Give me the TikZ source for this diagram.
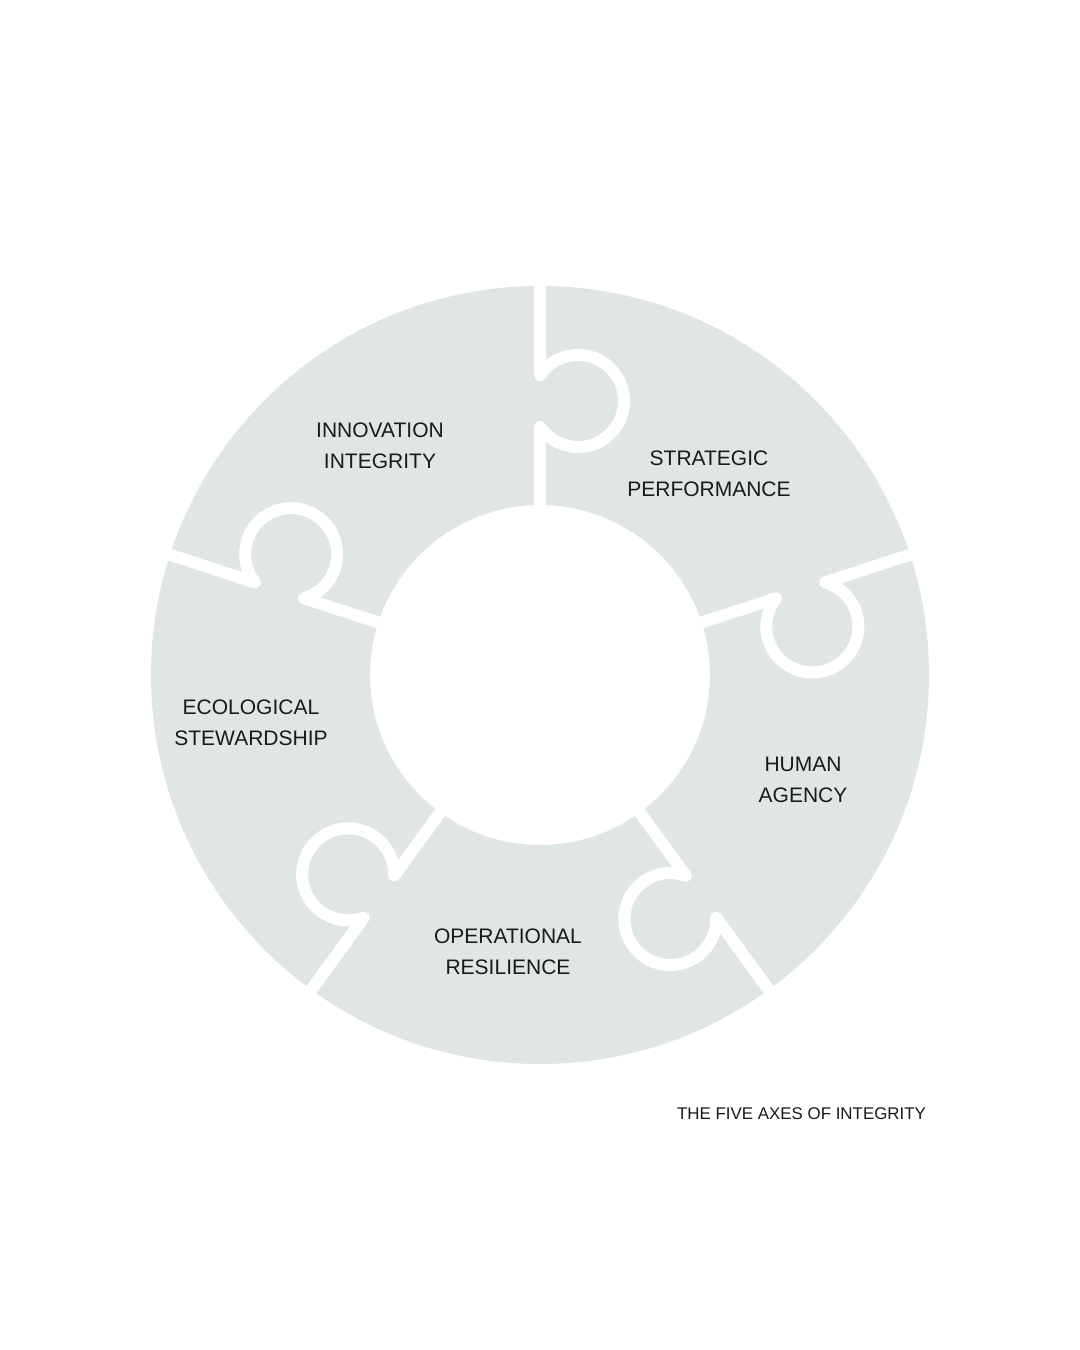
\documentclass[tikz,border=0pt]{standalone}
\usepackage{fontspec}
\setmainfont{Liberation Sans}
\definecolor{ringgray}{RGB}{223,230,228}
\definecolor{inkblack}{RGB}{26,26,26}
\tikzset{
  sepline/.style={draw=white, line width=6pt, line join=round, line cap=round},
  lbl/.style={inner sep=0pt, align=center, text=inkblack, font=\fontsize{10.5}{15.5}\selectfont},
  foot/.style={inner sep=0pt, text=inkblack, font=\fontsize{8.45}{10}\selectfont}
}
\begin{document}
\begin{tikzpicture}[x=0.5pt, y=0.5pt]
  \useasboundingbox (-540,-675) rectangle (540,675);
  \fill[white] (-540,-675) rectangle (540,675);
  % ring
  \fill[ringgray, even odd rule] (0,0) circle[radius=389] (0,0) circle[radius=170];
  % puzzle separators
  \foreach \t in {90,18,-54,-126,-198}{
    \begin{scope}[rotate=\t]
      \draw[sepline] (160,0) -- (248.1,0)
        arc[start angle=124.3, end angle=415.7, radius=46] -- (400,0);
    \end{scope}
  }
  % labels
  \node[lbl] (innov) at (-160,229) {INNOVATION\\INTEGRITY};
  \node[lbl] (strat) at (169,201) {STRATEGIC\\PERFORMANCE};
  \node[lbl] (human) at (263,-105) {HUMAN\\AGENCY};
  \node[lbl] (oper) at (-32,-277) {OPERATIONAL\\RESILIENCE};
  \node[lbl] (eco) at (-289,-48) {ECOLOGICAL\\STEWARDSHIP};
  \node[foot] (title) at (261.5,-439) {THE FIVE AXES OF INTEGRITY};
\end{tikzpicture}
\end{document}
